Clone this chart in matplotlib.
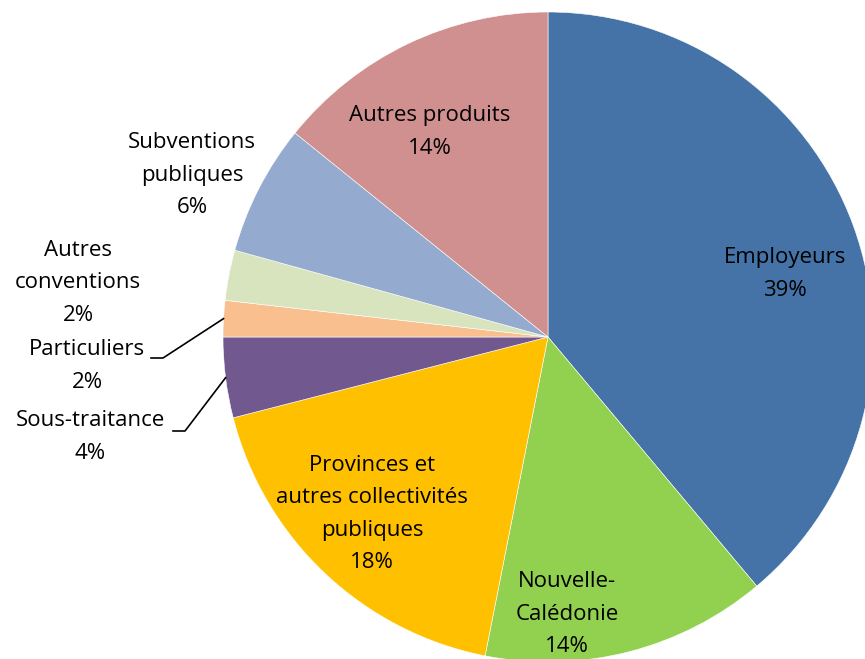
import numpy as np
import matplotlib.pyplot as plt

plt.rcParams['font.family'] = ['Open Sans', 'DejaVu Sans']

# Répartition des ressources (%)
categories = ["Employeurs", "Nouvelle-\nCalédonie", "Provinces et\nautres collectivités\npubliques",
              "Sous-traitance", "Particuliers", "Autres\nconventions", "Subventions\npubliques",
              "Autres produits"]
valeurs = [38.9, 14.2, 17.9, 4.0, 1.8, 2.5, 6.5, 14.2]
pct_labels = ["39%", "14%", "18%", "4%", "2%", "2%", "6%", "14%"]
couleurs = ["#4573A7", "#92D050", "#FFC000", "#71588F", "#F9BF8F", "#D7E4BD", "#95AACF", "#D19090"]

# positions des étiquettes (en pixels, origine en bas à gauche)
W, H = 865, 659
centre = (548, H - 337)
rayon = 325
pos_labels = [(785, H - 274), (567, H - 614), (372, H - 514), (90, H - 437),
              (87, H - 366), (78, H - 283), (192, H - 175), (430, H - 132)]

fig = plt.figure(figsize=(8.65, 6.59), dpi=100)
ax = fig.add_axes([0, 0, 1, 1])

wedges, _ = ax.pie(valeurs, colors=couleurs, startangle=90, counterclock=False,
                   center=centre, radius=rayon, frame=True,
                   wedgeprops=dict(edgecolor='white', linewidth=0.4))
ax.set_xlim(0, W)
ax.set_ylim(0, H)
ax.set_aspect('equal')
ax.axis('off')

for cat, pct, (x, y) in zip(categories, pct_labels, pos_labels):
    ax.text(x, y, cat + "\n" + pct, ha='center', va='center', fontsize=16,
            linespacing=1.72, color='black')

# traits de rappel pour les petites parts
for i, (x_fin, y_txt) in [(3, (185, H - 431)), (4, (163, H - 358))]:
    w = wedges[i]
    ang = np.deg2rad((w.theta1 + w.theta2) / 2)
    px = centre[0] + rayon * np.cos(ang)
    py = centre[1] + rayon * np.sin(ang)
    ax.plot([px, x_fin, x_fin - 12], [py, y_txt, y_txt], color='black', lw=1.2)

fig.savefig("out.png", dpi=100)
